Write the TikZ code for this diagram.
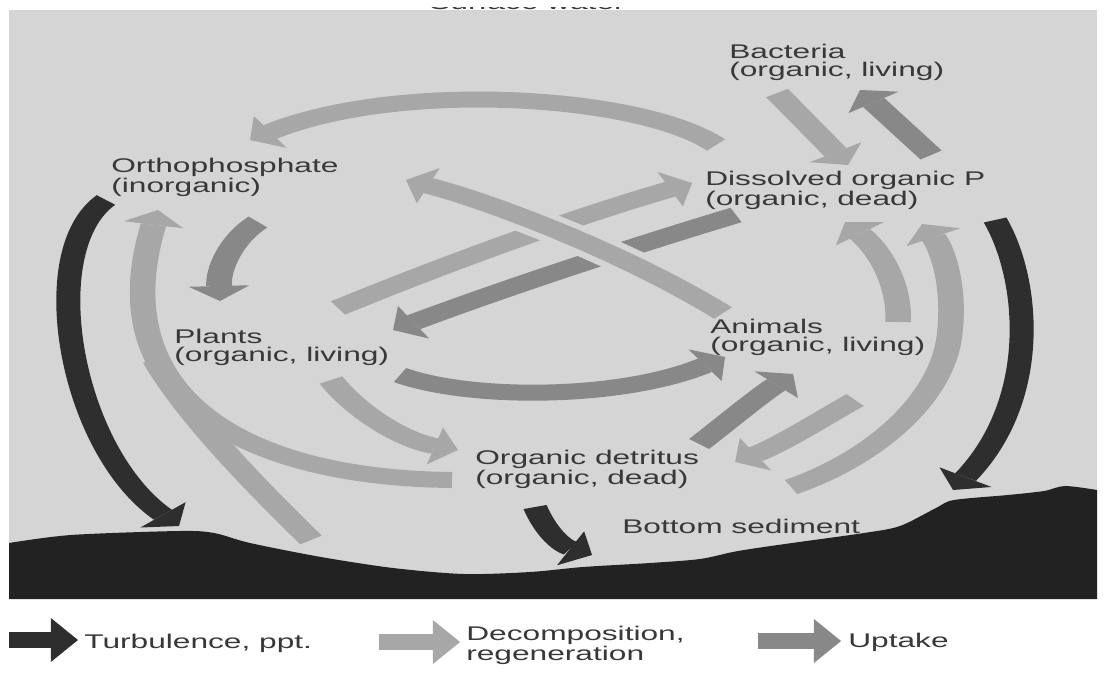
\documentclass[tikz,border=0pt]{standalone}
\usepackage{fontspec}
\setmainfont{Liberation Sans}
\usetikzlibrary{arrows.meta}
\definecolor{panelc}{HTML}{D5D5D5}
\definecolor{lightc}{HTML}{A7A7A7}
\definecolor{uptc}{HTML}{888888}
\definecolor{darkc}{HTML}{2E2E2E}
\definecolor{sedc}{HTML}{222222}
\definecolor{textc}{HTML}{383838}
\tikzset{
  band/.style={line width=16pt},
  decomp/.style={band, draw=lightc},
  uptake/.style={band, draw=uptc},
  turb/.style={line width=15pt, draw=darkc},
  head/.style={-{Triangle[width=38pt,length=15pt,line width=0pt]}},
  lhead/.style={-{Triangle[width=44pt,length=17pt,line width=0pt]}},
  halo/.style={line width=27pt, draw=panelc},
  lbl/.style={font=\fontsize{19.8}{18}\selectfont, text=textc, align=left, inner sep=0pt, anchor=base west},
}
\begin{document}
\begin{tikzpicture}[x=1pt,y=-1pt]
\useasboundingbox (0,0) rectangle (1104,675);
\fill[white] (0,0) rectangle (1104,675);
\begin{scope}[transform canvas={xscale=1.6}, xscale=0.625]
  % cut-off title at the top edge
  \node[lbl, anchor=base] (surface) at (527,9.5) {Surface water};
  \fill[white] (380,-10) rectangle (700,6.5);
  % water panel and sediment
  \fill[panelc] (9,10) rectangle (1097,599);
  \fill[sedc] (9,599) -- plot[smooth, tension=0.5] coordinates {(9,543) (71,535) (179,531) (214,533) (250,543) (321,557) (393,568) (464,574) (530,572) (583,567) (650,563) (700,559) (738,551) (792,543) (864,533) (900,526) (936,508) (954,500) (1008,495) (1044,491) (1065,486) (1097,490)} -- (1097,599) -- cycle;

  % end points
  \coordinate (turbLs) at (106,200);  \coordinate (turbLe) at (179,526);
  \coordinate (decLs) at (452,480);   \coordinate (decLe) at (158,210);
  \coordinate (sedLs) at (311,540);   \coordinate (sedLe) at (155,360);
  \coordinate (upOPs) at (258,222);   \coordinate (upOPe) at (220,301);
  \coordinate (tops) at (716,145);    \coordinate (tope) at (250,140);
  \coordinate (bacDs) at (777,93);    \coordinate (bacDe) at (848,165);
  \coordinate (dBs) at (931,155);     \coordinate (dBe) at (860,90);
  \coordinate (pDs) at (338,308);     \coordinate (pDe) at (692,183);
  \coordinate (dPs) at (736,215);     \coordinate (dPe) at (393,330);
  \coordinate (aOs) at (723,313);     \coordinate (aOe) at (406,180);
  \coordinate (pAs) at (400,375);     \coordinate (pAe) at (725,357);
  \coordinate (pDets) at (331,380);   \coordinate (pDete) at (458,450);
  \coordinate (detAs) at (699,444);   \coordinate (detAe) at (793,374);
  \coordinate (aDets) at (855,400);   \coordinate (aDete) at (735,462);
  \coordinate (sedDs) at (791,487);   \coordinate (sedDm) at (950,330);   \coordinate (sedDe) at (922,224);
  \coordinate (aDs) at (898,322);     \coordinate (aDe) at (845,222);
  \coordinate (turbRs) at (995,220);  \coordinate (turbRe) at (953,490);
  \coordinate (detSs) at (535,507);   \coordinate (detSe) at (592,555);

  % turbulence (dark)
  \draw[turb, head] (turbLs) .. controls (35,250) and (70,450) .. (turbLe);
  \draw[turb, head] (turbRs) .. controls (1030,280) and (1040,400) .. (turbRe);
  \draw[turb, head] (detSs) .. controls (545,530) and (560,545) .. (detSe);

  % decomposition (light)
  \draw[decomp] (sedLs) .. controls (260,490) and (190,420) .. (sedLe);
  \draw[decomp, head] (decLs) .. controls (250,478) and (100,400) .. (decLe);
  \draw[decomp, head] (tops) .. controls (640,95) and (400,80) .. (tope);
  \draw[decomp, head] (bacDs) -- (bacDe);
  \draw[decomp, head] (pDs) .. controls (450,262) and (580,215) .. (pDe);
  \draw[decomp, head] (pDets) .. controls (355,410) and (400,440) .. (pDete);
  \draw[decomp, head] (aDets) .. controls (820,420) and (780,445) .. (aDete);
  \draw[decomp, head] (sedDs) .. controls (870,460) and (945,400) .. (sedDm) .. controls (955,280) and (940,245) .. (sedDe);
  \draw[decomp, head] (aDs) .. controls (900,285) and (880,250) .. (aDe);

  % uptake (medium)
  \draw[uptake, head] (upOPs) .. controls (230,240) and (218,270) .. (upOPe);
  \draw[uptake, head] (dBs) -- (dBe);
  \draw[uptake, head] (dPs) .. controls (620,250) and (500,290) .. (dPe);
  \draw[uptake, head] (pAs) .. controls (470,400) and (620,400) .. (pAe);
  \draw[uptake, head] (detAs) .. controls (730,420) and (760,395) .. (detAe);

  % animals -> orthophosphate, passing over the two straight bands
  \draw[halo] (aOs) .. controls (620,250) and (485,200) .. (aOe);
  \draw[decomp, head] (aOs) .. controls (620,250) and (485,200) .. (aOe);

  % labels (two-line labels are placed by the baseline of their last line)
  \node[lbl] (ortho) at (111,192) {Orthophosphate\\(inorganic)};
  \node[lbl] (bact) at (729,76) {Bacteria\\(organic, living)};
  \node[lbl] (dop) at (705,205) {Dissolved organic P\\(organic, dead)};
  \node[lbl] (plants) at (174,361) {Plants\\(organic, living)};
  \node[lbl] (animals) at (710,351) {Animals\\(organic, living)};
  \node[lbl] (detritus) at (475,484) {Organic detritus\\(organic, dead)};
  \node[lbl] (sediment) at (622,533) {Bottom sediment};

  % legend
  \coordinate (lg1s) at (9,640);   \coordinate (lg1e) at (78,640);
  \coordinate (lg2s) at (379,642); \coordinate (lg2e) at (460,642);
  \coordinate (lg3s) at (758,641); \coordinate (lg3e) at (841,641);
  \draw[turb, line width=16pt, lhead] (lg1s) -- (lg1e);
  \draw[decomp, lhead] (lg2s) -- (lg2e);
  \draw[uptake, lhead] (lg3s) -- (lg3e);
  \node[lbl] (lturb) at (84,648) {Turbulence, ppt.};
  \node[lbl] (ldec) at (466,660) {Decomposition,\\regeneration};
  \node[lbl] (lupt) at (848,647) {Uptake};
\end{scope}
\end{tikzpicture}
\end{document}
